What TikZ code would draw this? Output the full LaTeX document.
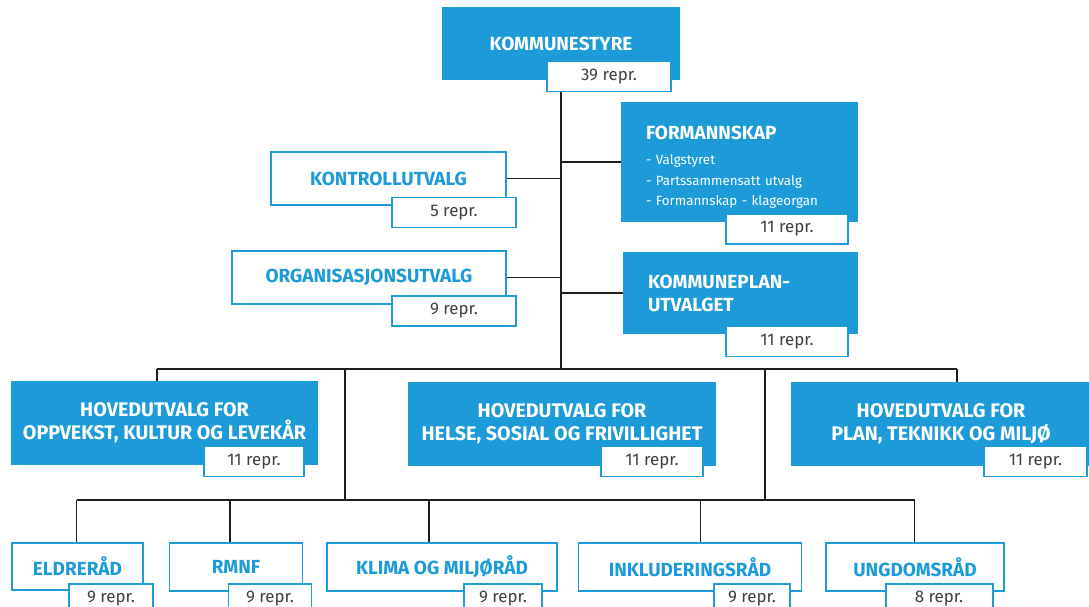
\documentclass[tikz,border=0pt]{standalone}
\usepackage{fontspec}
\setmainfont{Fira Sans}
\usetikzlibrary{backgrounds}
\definecolor{kblue}{RGB}{28,155,216}
\definecolor{reprgray}{RGB}{64,64,64}
\definecolor{linegray}{RGB}{30,30,30}
\newcommand{\pu}{0.025cm}
\begin{document}
\begin{tikzpicture}[x=\pu,y=-\pu]
	\tikzset{fillbox/.style 2 args = {rectangle,fill=kblue,draw=kblue,line width=1pt,text=white,font=\fontsize{13.5}{16.3}\selectfont\bfseries,align=center,inner sep=0pt,minimum width=#1*\pu,minimum height=#2*\pu}}
	\tikzset{linebox/.style 2 args = {rectangle,fill=white,draw=kblue,line width=1.4pt,text=kblue,font=\fontsize{13.5}{16.3}\selectfont\bfseries,align=center,inner sep=0pt,minimum width=#1*\pu,minimum height=#2*\pu}}
	\tikzset{reprbox/.style = {rectangle,fill=white,draw=kblue,line width=1.4pt,text=reprgray,font=\fontsize{12}{14}\selectfont,inner sep=0pt,minimum width=#1*\pu,minimum height=30*\pu}}
	\tikzset{hoved/.style = {font=\fontsize{14}{16.3}\selectfont\bfseries}}
	\tikzset{link/.style = {draw=linegray,line width=1.3pt}}
	\useasboundingbox (0,0) rectangle (1089,606);
	\clip (0,0) rectangle (1089,606);
	\coordinate (t1) at (157,369);
	\coordinate (t2) at (345,369);
	\coordinate (t3) at (561,369);
	\coordinate (t4) at (765,369);
	\coordinate (t5) at (957,369);
	\coordinate (u1) at (76.5,500);
	\coordinate (u2) at (230,500);
	\coordinate (u3) at (429,500);
	\coordinate (u4) at (700.5,500);
	\coordinate (u5) at (914.5,500);
	\coordinate (u6) at (345,500);
	\coordinate (u7) at (765,500);
	\node[fillbox={236}{71}] (ks) at (561,43.5) {KOMMUNESTYRE};
	\node[reprbox=124] (ksr) at (609,76.5) {39 repr.};
	\node[fillbox={235}{118},align=left,text width=187*\pu,font=\fontsize{9.5}{14.5}\selectfont] (fs) at (739.5,162) {\rule{0pt}{17pt}{\fontsize{13.5}{14}\selectfont\bfseries FORMANNSKAP}\\[3.5pt]
		- Valgstyret\\
		- Partssammensatt utvalg\\
		- Formannskap - klageorgan};
	\node[reprbox=122] (fsr) at (787,229) {11 repr.};
	\node[linebox={235}{53}] (ku) at (388.5,178.5) {KONTROLLUTVALG};
	\node[reprbox=124] (kur) at (454,212.5) {5 repr.};
	\node[linebox={274}{53}] (ou) at (369,277.5) {ORGANISASJONSUTVALG};
	\node[reprbox=124] (our) at (454,311) {9 repr.};
	\node[fillbox={233}{80},align=left,text width=185*\pu] (kp) at (740.5,293) {KOMMUNEPLAN-\\UTVALGET};
	\node[reprbox=122] (kpr) at (787,341.5) {11 repr.};
	\node[fillbox={305}{82},hoved] (h1) at (164.5,423) {HOVEDUTVALG FOR\\OPPVEKST, KULTUR OG LEVEKÅR};
	\node[reprbox=100] (h1r) at (254,461.5) {11 repr.};
	\node[fillbox={306}{82},hoved] (h2) at (562,424) {HOVEDUTVALG FOR\\HELSE, SOSIAL OG FRIVILLIGHET};
	\node[reprbox=102] (h2r) at (652,461.5) {11 repr.};
	\node[fillbox={298}{82},hoved] (h3) at (941,424) {HOVEDUTVALG FOR\\PLAN, TEKNIKK OG MILJØ};
	\node[reprbox=103] (h3r) at (1035.5,461.5) {11 repr.};
	\node[linebox={131}{47}] (er) at (77.5,566.5) {ELDRERÅD};
	\node[reprbox=84] (err) at (111,599) {9 repr.};
	\node[linebox={133}{48}] (rm) at (236,567) {RMNF};
	\node[reprbox=83] (rmr) at (270,599) {9 repr.};
	\node[linebox={230}{48}] (kl) at (442,567) {KLIMA OG MILJØRÅD};
	\node[reprbox=78] (klr) at (503,599) {9 repr.};
	\node[linebox={223}{48}] (in) at (690,567) {INKLUDERINGSRÅD};
	\node[reprbox=76] (inr) at (752,599) {9 repr.};
	\node[linebox={178}{48}] (ug) at (915,567) {UNGDOMSRÅD};
	\node[reprbox=107] (ugr) at (939,599) {8 repr.};
	\begin{pgfonlayer}{background}
	\path[link] (ks.south) -- (t3);
	\path[link] (fs.west) -- (fs.west -| ks.south);
	\path[link] (ku.east) -- (ku.east -| ks.south);
	\path[link] (ou.east) -- (ou.east -| ks.south);
	\path[link] (kp.west) -- (kp.west -| ks.south);
	\path[link] (t1) -- (t5);
	\path[link] (t1) -- (t1 |- h1.north);
	\path[link] (t5) -- (t5 |- h3.north);
	\path[link] (t2) -- (u6);
	\path[link] (t4) -- (u7);
	\path[link] (u1) -- (u5);
	\path[link] (u1) -- (u1 |- er.north);
	\path[link] (u2) -- (u2 |- rm.north);
	\path[link] (u3) -- (u3 |- kl.north);
	\path[link] (u4) -- (u4 |- in.north);
	\path[link] (u5) -- (u5 |- ug.north);
	\end{pgfonlayer}
\end{tikzpicture}
\end{document}
